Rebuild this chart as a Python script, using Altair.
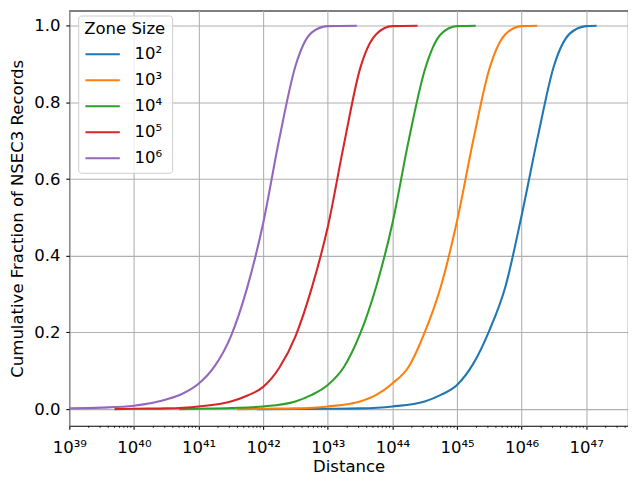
import altair as alt
import pandas as pd

# ---- data (log10 of distance, cumulative fraction) ----
zone_labels = ["10²", "10³", "10⁴", "10⁵", "10⁶"]
colors = ["#1f77b4", "#ff7f0e", "#2ca02c", "#d62728", "#9467bd"]

log_d_1e2 = [41.9, 42.5, 43.0, 43.5, 44.0, 44.5, 44.75, 45.0, 45.25, 45.5, 45.75, 46.0, 46.25, 46.5, 46.75, 47.0, 47.16]
frac_1e2 = [0.0, 0.0005, 0.001, 0.002, 0.007, 0.02, 0.037, 0.063, 0.118, 0.205, 0.32, 0.505, 0.71, 0.895, 0.98, 0.999, 1.0]

log_d_1e3 = [41.6, 42.0, 42.5, 43.0, 43.5, 43.75, 44.0, 44.25, 44.5, 44.75, 45.0, 45.25, 45.5, 45.75, 46.0, 46.24]
frac_1e3 = [0.0, 0.001, 0.002, 0.007, 0.02, 0.037, 0.067, 0.11, 0.2, 0.32, 0.49, 0.70, 0.887, 0.978, 0.999, 1.0]

log_d_1e4 = [40.7, 41.0, 41.5, 42.0, 42.5, 42.75, 43.0, 43.25, 43.5, 43.75, 44.0, 44.25, 44.5, 44.75, 45.0, 45.29]
frac_1e4 = [0.0, 0.001, 0.003, 0.007, 0.02, 0.037, 0.063, 0.11, 0.196, 0.32, 0.484, 0.699, 0.884, 0.978, 0.999, 1.0]

log_d_1e5 = [39.7, 40.0, 40.5, 41.0, 41.5, 41.75, 42.0, 42.25, 42.5, 42.75, 43.0, 43.25, 43.5, 43.75, 44.0, 44.39]
frac_1e5 = [0.0, 0.001, 0.002, 0.007, 0.02, 0.035, 0.058, 0.108, 0.19, 0.315, 0.475, 0.69, 0.888, 0.978, 0.999, 1.0]

log_d_1e6 = [39.0, 39.5, 40.0, 40.5, 40.75, 41.0, 41.25, 41.5, 41.75, 42.0, 42.25, 42.5, 42.75, 43.0, 43.45]
frac_1e6 = [0.002, 0.004, 0.009, 0.025, 0.04, 0.066, 0.112, 0.19, 0.315, 0.485, 0.705, 0.895, 0.982, 0.999, 1.0]

x_major_exp = [39, 40, 41, 42, 43, 44, 45, 46, 47]
y_ticks = [0.0, 0.2, 0.4, 0.6, 0.8, 1.0]

series = [
    (zone_labels[0], log_d_1e2, frac_1e2),
    (zone_labels[1], log_d_1e3, frac_1e3),
    (zone_labels[2], log_d_1e4, frac_1e4),
    (zone_labels[3], log_d_1e5, frac_1e5),
    (zone_labels[4], log_d_1e6, frac_1e6),
]
rows = []
for lab, lds, fs in series:
    for i, (ld, f) in enumerate(zip(lds, fs)):
        rows.append({"zone": lab, "distance": 10.0 ** ld, "fraction": f, "i": i})
df = pd.DataFrame(rows)

W, H = 565, 420
xdom = [1e39, 4.43e47]
ydom = [-0.0438, 1.0394]
x_major = [10.0 ** e for e in x_major_exp]
x_minor = [k * 10.0 ** e for e in x_major_exp for k in range(2, 10) if k * 10.0 ** e <= xdom[1]]

FONT = "DejaVu Sans"
FS = 16.7
sup = "⁰¹²³⁴⁵⁶⁷⁸⁹"
ex = "round(log(datum.value)/LN10)"
label_expr = (
    f"'10' + substring('{sup}', floor({ex}/10), floor({ex}/10)+1)"
    f" + substring('{sup}', {ex}%10, {ex}%10+1)"
)

xscale = alt.Scale(type="log", domain=xdom, nice=False)

lines = alt.Chart(df).mark_line(strokeWidth=2.1, interpolate="monotone", clip=True).encode(
    x=alt.X("distance:Q", scale=xscale,
            axis=alt.Axis(values=x_major, labelExpr=label_expr, title="Distance",
                          labelPadding=10, titlePadding=2.5)),
    y=alt.Y("fraction:Q", scale=alt.Scale(domain=ydom, nice=False, zero=False),
            axis=alt.Axis(values=y_ticks, format=".1f",
                          title="Cumulative Fraction of NSEC3 Records",
                          labelPadding=6, titlePadding=7)),
    color=alt.Color("zone:N", scale=alt.Scale(domain=zone_labels, range=colors),
                    legend=alt.Legend(title="Zone Size", orient="none", legendX=9, legendY=5,
                                      symbolType="M-1,0H3", symbolStrokeWidth=2.1,
                                      symbolSize=302, labelOffset=31,
                                      rowPadding=7.3, padding=6, titlePadding=6.4,
                                      fillColor="rgba(255,255,255,0.8)",
                                      strokeColor="#cccccc", cornerRadius=3)),
    order="i:Q",
)

minor = alt.Chart(pd.DataFrame({"m": x_minor})).mark_rule(color="black", strokeWidth=0.7).encode(
    x=alt.X("m:Q", scale=xscale, axis=None),
    y=alt.value(H),
    y2=alt.value(H + 2.2),
)

chart = alt.layer(lines, minor).resolve_axis(x="independent").properties(
    width=W, height=H,
    autosize=alt.AutoSizeParams(type="none"),
    padding={"left": 62, "top": 0, "right": 0, "bottom": 47},
).configure_view(
    stroke="black", strokeWidth=1.1
).configure_axis(
    domain=False,
    grid=True, gridColor="#b0b0b0", gridWidth=1.1,
    ticks=True, tickColor="black", tickSize=3.5, tickWidth=1.1,
    labelFont=FONT, labelFontSize=FS, labelColor="black",
    titleFont=FONT, titleFontSize=FS, titleFontWeight="normal", titleColor="black",
    labelFlush=False, labelOverlap=False,
).configure_legend(
    titleFont=FONT, titleFontSize=FS, titleFontWeight="normal", titleColor="black",
    labelFont=FONT, labelFontSize=FS, labelColor="black",
)

chart.save("out.html", embed_options={"renderer": "svg", "actions": False})
